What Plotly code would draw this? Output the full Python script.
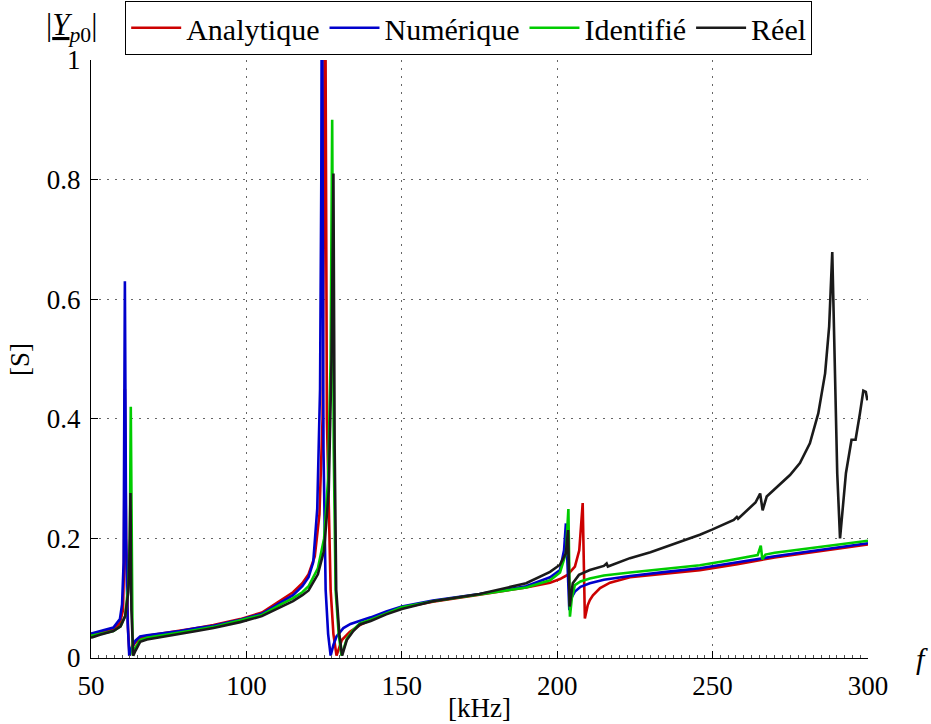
import plotly.graph_objects as go

# ---------------- data ----------------
f_analytique = [50, 53, 57.2, 59.3, 60.3, 60.6, 60.9, 61.3, 61.9, 62.4, 63.0, 64, 65.8, 68, 73, 78.6, 84, 89.4, 98,
                105, 110.8, 115, 118, 120, 122, 123.5, 124.5, 125.0, 125.3, 125.9, 127.1, 128.0, 129.0, 130.7,
                133.3, 136.5, 140, 145, 150, 160, 175, 190, 197.7, 200.9, 203.3, 205.7, 207.1, 207.9, 208.2, 208.9,
                209.3, 209.8, 210.5, 211.5, 213.8, 217, 223.4, 235, 245.9, 258, 270, 285, 300]
y_analytique = [0.040, 0.043, 0.048, 0.058, 0.08, 0.15, 0.45, 0.2, 0.05, 0.004, 0.015, 0.024, 0.033, 0.037, 0.041,
                0.045, 0.050, 0.055, 0.065, 0.076, 0.096, 0.11, 0.125, 0.14, 0.17, 0.24, 0.4, 0.8, 1.25, 0.4, 0.114,
                0.04, 0.004, 0.03, 0.044, 0.055, 0.064, 0.075, 0.084, 0.094, 0.106, 0.118, 0.126, 0.132, 0.139,
                0.153, 0.18, 0.23, 0.259, 0.066, 0.078, 0.088, 0.097, 0.105, 0.117, 0.126, 0.135, 0.141, 0.147,
                0.157, 0.168, 0.179, 0.19]

f_numerique = [50, 53, 57.2, 59.3, 60.0, 60.5, 60.9, 61.3, 61.8, 62.3, 63.2, 64.3, 65.8, 68, 73, 78.6, 84, 89.4, 98,
               105, 110.8, 115, 118, 120, 121.5, 122.8, 123.7, 124.1, 124.3, 124.8, 125.5, 126.3, 127.1, 128.0,
               129.0, 131.2, 133.5, 136.5, 140, 145, 150, 160, 175, 190, 197.7, 200.9, 202.2, 202.8, 203.9, 204.5,
               205.7, 207.5, 210.5, 215, 223.4, 235, 245.9, 258, 270, 285, 300]
y_numerique = [0.041, 0.045, 0.051, 0.065, 0.09, 0.16, 0.63, 0.2, 0.06, 0.004, 0.019, 0.029, 0.036, 0.038, 0.041,
               0.045, 0.050, 0.054, 0.064, 0.074, 0.092, 0.105, 0.12, 0.135, 0.16, 0.25, 0.45, 0.8, 1.25, 0.35,
               0.114, 0.04, 0.004, 0.022, 0.036, 0.05, 0.057, 0.062, 0.068, 0.078, 0.086, 0.096, 0.107, 0.12, 0.135,
               0.147, 0.18, 0.225, 0.08, 0.1, 0.111, 0.119, 0.125, 0.131, 0.137, 0.144, 0.15, 0.16, 0.17, 0.181,
               0.192]

f_identifie = [50, 53, 57.2, 59.5, 61.0, 62.0, 62.5, 62.8, 63.1, 63.4, 64.0, 65.8, 68, 73, 78.6, 84, 89.4, 98, 105,
               110.8, 115, 118, 120, 123, 125, 126.3, 127.1, 127.6, 128.1, 128.7, 129.7, 130.6, 132.3, 134.4,
               136.5, 140, 145, 150, 160, 175, 190, 197.7, 200.9, 202.8, 203.4, 203.6, 204.1, 204.7, 205.7, 207.5,
               210.5, 215, 223.4, 235, 245.9, 255, 264.5, 265.5, 266.0, 267.0, 270, 285, 300]
y_identifie = [0.037, 0.040, 0.045, 0.053, 0.07, 0.12, 0.2, 0.42, 0.1, 0.004, 0.015, 0.03, 0.034, 0.038, 0.042,
               0.047, 0.052, 0.063, 0.072, 0.089, 0.1, 0.11, 0.12, 0.15, 0.2, 0.3, 0.5, 0.9, 0.35, 0.114, 0.04,
               0.004, 0.032, 0.047, 0.058, 0.064, 0.075, 0.085, 0.095, 0.106, 0.118, 0.13, 0.143, 0.175, 0.23,
               0.249, 0.069, 0.1, 0.122, 0.128, 0.133, 0.138, 0.143, 0.149, 0.155, 0.163, 0.172, 0.188, 0.165,
               0.173, 0.176, 0.186, 0.196]

f_reel = [50, 52.9, 57.2, 59.5, 61.0, 62.0, 62.4, 62.7, 63.0, 63.6, 64.3, 65.8, 68, 73, 78.6, 84, 89.4, 98, 105,
          110.8, 115, 118, 120, 123, 125, 126.5, 127.4, 128.0, 128.4, 128.9, 129.9, 130.8, 132.3, 134.4, 136.5, 140,
          145, 150, 160, 175, 190, 197.7, 200.9, 202.8, 203.5, 204.0, 205.0, 207.0, 210.5, 215.0, 215.9, 216.3,
          223.4, 230, 240, 245.9, 250, 256.8, 257.8, 258.2, 263.8, 265.3, 266.1, 267.4, 274.9, 278.1, 281.3, 284.0,
          286.2, 287.5, 288.5, 289.1, 290.1, 291.0, 292.9, 294.7, 296.0, 297.4, 298.5, 299.3, 299.8]
y_reel = [0.034, 0.039, 0.045, 0.053, 0.07, 0.11, 0.17, 0.276, 0.08, 0.004, 0.012, 0.027, 0.031, 0.035, 0.04,
          0.045, 0.05, 0.06, 0.07, 0.085, 0.095, 0.105, 0.113, 0.14, 0.18, 0.28, 0.5, 0.81, 0.35, 0.114, 0.04, 0.004,
          0.03, 0.045, 0.056, 0.062, 0.073, 0.082, 0.095, 0.107, 0.125, 0.144, 0.156, 0.175, 0.214, 0.086, 0.125,
          0.139, 0.147, 0.154, 0.158, 0.153, 0.167, 0.177, 0.195, 0.206, 0.215, 0.231, 0.236, 0.233, 0.26, 0.275,
          0.247, 0.27, 0.306, 0.326, 0.359, 0.409, 0.476, 0.554, 0.679, 0.532, 0.309, 0.2, 0.309, 0.365, 0.365,
          0.409, 0.447, 0.445, 0.431]

x_ticks = [50, 100, 150, 200, 250, 300]
y_ticks = [0, 0.2, 0.4, 0.6, 0.8, 1]
y_ticklabels = ["0", "0.2", "0.4", "0.6", "0.8", "1"]

series = [
    ("Analytique", f_analytique, y_analytique, "#cc0000"),
    ("Numérique", f_numerique, y_numerique, "#0000cc"),
    ("Identifié", f_identifie, y_identifie, "#00cc00"),
    ("Réel", f_reel, y_reel, "#1a1a1a"),
]

FONT = "Liberation Serif"
AX = 27

fig = go.Figure()
for name, fx, fy, col in series:
    fig.add_trace(go.Scatter(x=fx, y=fy, mode="lines", name=name,
                             line=dict(color=col, width=2.6)))

fig.update_layout(
    width=931, height=724,
    margin=dict(l=91, r=63, t=60, b=66, autoexpand=False),
    paper_bgcolor="white", plot_bgcolor="white",
    font=dict(family=FONT, size=AX, color="black"),
    showlegend=True,
    legend=dict(orientation="h", x=0.044, y=1.099, xanchor="left", yanchor="top",
                bordercolor="black", borderwidth=1, bgcolor="white",
                font=dict(family=FONT, size=30), itemwidth=50,
                tracegroupgap=0),
)

GRID = dict(showgrid=True, gridcolor="#666666", griddash="2px,6px", gridwidth=1,
            showline=True, linecolor="black", linewidth=1, mirror=False,
            ticks="inside", ticklen=7, tickcolor="black", zeroline=False,
            tickfont=dict(size=AX))
fig.update_xaxes(range=[50, 300], tickvals=x_ticks, ticktext=[str(v) for v in x_ticks],
                 minor=dict(dtick=2.5, ticks="inside", ticklen=3, tickcolor="#555555", showgrid=False),
                 ticklabelstandoff=4, **GRID)
fig.update_yaxes(range=[0, 1], tickvals=y_ticks, ticktext=y_ticklabels, ticklabelstandoff=4, **GRID)

# axis titles and labels as annotations
fig.add_annotation(text="[kHz]", xref="paper", yref="paper", x=0.5, y=-0.084,
                   xanchor="center", yanchor="middle", showarrow=False, font=dict(size=AX))
fig.add_annotation(text="[S]", xref="paper", yref="paper", x=-0.0914, y=0.5, textangle=-90,
                   xanchor="center", yanchor="middle", showarrow=False, font=dict(size=AX))
fig.add_annotation(text="<i>f</i>", xref="paper", yref="paper", x=1.07, y=0.0,
                   xanchor="center", yanchor="middle", showarrow=False, font=dict(size=30))
fig.add_annotation(text="|<u><i>Y</i></u><sub><i>p</i>0</sub>|", xref="paper", yref="paper",
                   x=-0.0245, y=1.055, xanchor="center", yanchor="middle", showarrow=False,
                   font=dict(size=31))

fig.write_html("out.html", config={"displayModeBar": False},
               post_script="document.body.style.margin='0px';")
